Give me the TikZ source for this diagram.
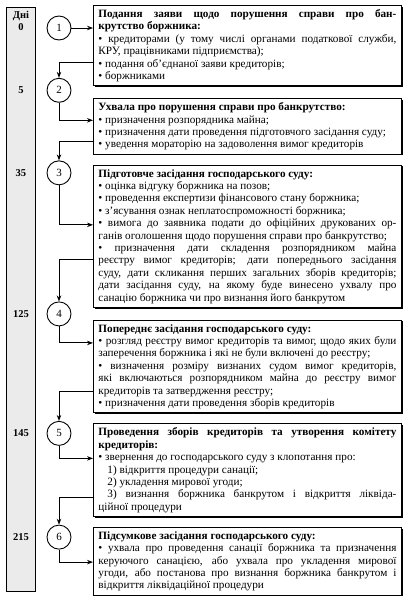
\documentclass[tikz,border=0pt]{standalone}
\usepackage{fontspec}
\setmainfont{Liberation Serif}
\usetikzlibrary{arrows.meta, positioning, calc, shadows}
\tikzset{
  stage/.style={rectangle, draw=black, line width=0.9pt, fill=white, text width=298pt,
    inner xsep=5pt, inner ysep=4pt, align=justify, font=\fontsize{11.2}{12.4}\selectfont,
    drop shadow={shadow xshift=1.1pt, shadow yshift=-1.1pt, opacity=1, fill=black}},
  num/.style={circle, draw=black, line width=0.9pt, minimum size=24pt, inner sep=0pt,
    font=\fontsize{11}{12}\selectfont},
  day/.style={font=\bfseries\fontsize{10.5}{12.6}\selectfont, align=center, inner sep=0pt},
  strip/.style={rectangle, draw=black, line width=0.9pt, fill=black!8, minimum width=29pt,
    minimum height=584pt, inner sep=0pt},
  arr/.style={-{Stealth[length=6pt, width=4.5pt]}, line width=0.9pt},
}
\newcommand{\bul}{\textbullet\ }

\begin{document}
\begin{tikzpicture}
  \useasboundingbox (0,0) rectangle (409pt,-600pt);
  \node[strip, anchor=north west] (strip) at (6pt,-7pt) {};

  % stages of the procedure
  \node[stage, anchor=north west] (s1) at (93pt,-5pt) {\textbf{Подання заяви щодо порушення справи про бан-\linebreak крутство боржника:}\\
    \bul кредиторами (у тому числі органами податкової служби,\linebreak КРУ, працівниками підприємства);\\
    \bul подання об’єднаної заяви кредиторів;\\
    \bul боржниками};
  \node[stage, below=12pt of s1] (s2) {\textbf{Ухвала про порушення справи про банкрутство:}\\
    \bul призначення розпорядника майна;\\
    \bul призначення дати проведення підготовчого засідання суду;\\
    \bul уведення мораторію на задоволення вимог кредиторів};
  \node[stage, below=10pt of s2] (s3) {\textbf{Підготовче засідання господарського суду:}\\
    \bul оцінка відгуку боржника на позов;\\
    \bul проведення експертизи фінансового стану боржника;\\
    \bul з’ясування ознак неплатоспроможності боржника;\\
    \bul вимога до заявника подати до офіційних друкованих ор-\linebreak ганів оголошення щодо порушення справи про банкрутство;\\
    \bul призначення дати складення розпорядником майна\linebreak реєстру вимог кредиторів; дати попереднього засідання\linebreak суду, дати скликання перших загальних зборів кредиторів;\linebreak дати засідання суду, на якому буде винесено ухвалу про\linebreak санацію боржника чи про визнання його банкрутом};
  \node[stage, below=12pt of s3] (s4) {\textbf{Попереднє засідання господарського суду:}\\
    \bul розгляд реєстру вимог кредиторів та вимог, щодо яких були\linebreak заперечення боржника і які не були включені до реєстру;\\
    \bul визначення розміру визнаних судом вимог кредиторів,\linebreak які включаються розпорядником майна до реєстру вимог\linebreak кредиторів та затвердження реєстру;\\
    \bul призначення дати проведення зборів кредиторів};
  \node[stage, below=10pt of s4] (s5) {\textbf{Проведення зборів кредиторів та утворення комітету\linebreak кредиторів:}\\
    \bul звернення до господарського суду з клопотання про:\\
    \hspace*{0.8em}1) відкриття процедури санації;\\
    \hspace*{0.8em}2) укладення мирової угоди;\\
    \hspace*{0.8em}3) визнання боржника банкрутом і відкриття ліквіда-\linebreak ційної процедури};
  \node[stage, below=10pt of s5] (s6) {\textbf{Підсумкове засідання господарського суду:}\\
    \bul ухвала про проведення санації боржника та призначення\linebreak керуючого санацією, або ухвала про укладення мирової\linebreak угоди, або постанова про визнання боржника банкрутом і\linebreak відкриття ліквідаційної процедури};

  % numbered steps
  \node[num] (c1) at ($(s1.north west)+(-34pt,-23pt)$) {1};
  \node[num] (c2) at ($(s1.south west)!0.5!(s2.north west)+(-34pt,2pt)$) {2};
  \node[num] (c3) at ($(s3.north west)+(-34pt,-8pt)$) {3};
  \node[num] (c4) at ($(s3.south west)!0.5!(s4.north west)+(-34pt,0pt)$) {4};
  \node[num] (c5) at ($(s5.north west)+(-34pt,-10pt)$) {5};
  \node[num] (c6) at ($(s6.north west)+(-34pt,-10pt)$) {6};

  % days
  \node[day] (d0) at ($(strip.north |- c1)+(0,7pt)$) {Дні\\0};
  \node[day] (d5) at (strip.north |- c2) {5};
  \node[day] (d35) at (strip.north |- c3) {35};
  \node[day] (d125) at (strip.north |- c4) {125};
  \node[day] (d145) at (strip.north |- c5) {145};
  \node[day] (d215) at (strip.north |- c6) {215};

  \draw[arr] (c1) -- (c1 -| s1.west);
  \draw[arr] ([yshift=24pt]s1.south west) -| (c2);
  \draw[arr] (c2) |- ([yshift=-22pt]s2.north west);
  \draw[arr] ([yshift=13pt]s2.south west) -| (c3);
  \draw[arr] (c3) |- ([yshift=-60pt]s3.north west);
  \draw[arr] ([yshift=48pt]s3.south west) -| (c4);
  \draw[arr] (c4) |- ([yshift=-23pt]s4.north west);
  \draw[arr] ([yshift=22pt]s4.south west) -| (c5);
  \draw[arr] (c5) |- ([yshift=-35pt]s5.north west);
  \draw[arr] ([yshift=20pt]s5.south west) -| (c6);
  \draw[arr] (c6) |- ([yshift=-35pt]s6.north west);
\end{tikzpicture}
\end{document}
